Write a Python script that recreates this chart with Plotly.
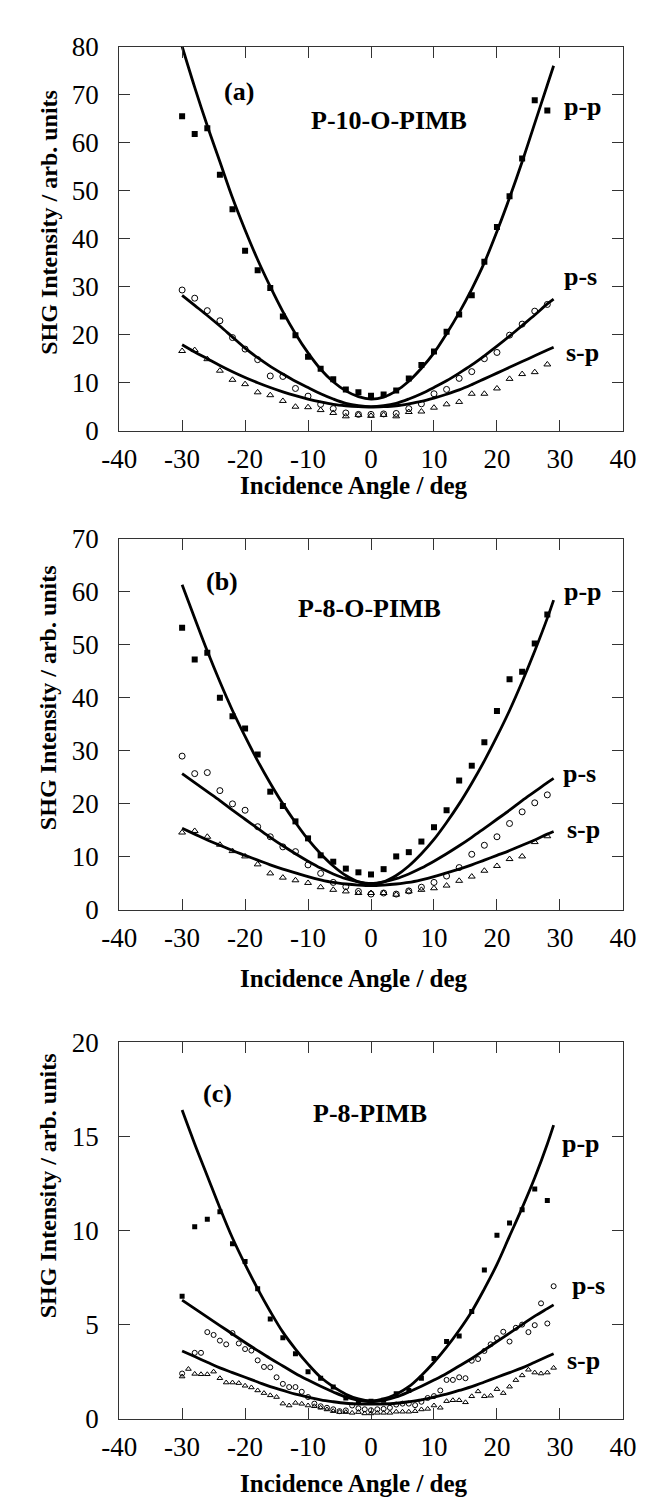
import plotly.graph_objects as go

W, H = 646, 1509
FONT = "Liberation Serif"

# ---------------- data ----------------
angle_even = [-30, -28, -26, -24, -22, -20, -18, -16, -14, -12, -10, -8, -6, -4, -2,
              0, 2, 4, 6, 8, 10, 12, 14, 16, 18, 20, 22, 24, 26, 28]
fit_angle = [-30, -28, -26, -24, -22, -20, -18, -16, -14, -12, -10, -8, -6, -4, -2,
             0, 2, 4, 6, 8, 10, 12, 14, 16, 18, 20, 22, 24, 26, 28, 29]

# (a) P-10-O-PIMB
a_pp = [65.5, 61.8, 63.0, 53.3, 46.1, 37.5, 33.4, 29.7, 23.8, 19.9, 15.4, 12.9, 10.7, 8.6, 8.0,
        7.3, 7.55, 8.4, 10.9, 13.7, 16.5, 20.6, 24.2, 28.2, 35.2, 42.4, 48.8, 56.7, 68.8, 66.7]
a_ps = [29.3, 27.6, 25.0, 22.9, 19.4, 17.0, 14.8, 11.4, 11.3, 8.8, 7.2, 5.5, 4.6, 3.7, 3.4,
        3.4, 3.5, 3.6, 4.6, 5.6, 7.7, 8.6, 10.9, 12.3, 15.0, 16.3, 19.9, 22.2, 24.9, 26.3]
a_sp = [16.6, 16.8, 14.9, 12.5, 10.6, 9.7, 8.0, 7.4, 6.2, 5.0, 4.9, 4.3, 3.7, 3.0, 3.3,
        3.1, 3.3, 3.0, 3.9, 4.0, 4.8, 5.5, 6.0, 7.7, 7.7, 8.8, 10.8, 11.8, 12.2, 13.8]
a_fit_pp = [80.0, 71.5, 63.5, 56.0, 48.5, 41.8, 35.6, 30.0, 24.8, 20.2, 16.2, 12.8, 10.2, 8.3, 7.1,
            6.6, 7.0, 8.3, 10.3, 13.0, 16.2, 20.2, 24.6, 29.5, 35.0, 41.5, 48.5, 56.0, 64.0, 72.0, 76.0]
a_fit_ps = [28.2, 26.1, 24.0, 21.8, 19.5, 17.2, 15.2, 13.4, 11.8, 10.3, 9.0, 7.7, 6.6, 5.7, 5.2,
            5.0, 5.2, 5.7, 6.6, 7.7, 9.0, 10.4, 12.0, 13.7, 15.6, 17.6, 19.7, 21.9, 24.1, 26.4, 27.4]
a_fit_sp = [17.9, 16.4, 15.0, 13.6, 12.3, 11.1, 10.0, 9.0, 8.1, 7.3, 6.6, 6.0, 5.5, 5.2, 5.0,
            4.9, 5.0, 5.2, 5.6, 6.1, 6.8, 7.6, 8.5, 9.6, 10.8, 12.0, 13.2, 14.4, 15.6, 16.8, 17.4]

# (b) P-8-O-PIMB
b_pp = [53.2, 47.2, 48.5, 40.0, 36.5, 34.2, 29.3, 22.3, 19.6, 16.7, 13.5, 10.3, 9.1, 7.8, 7.1,
        6.7, 7.7, 10.1, 10.9, 12.9, 15.6, 18.8, 24.4, 27.2, 31.6, 37.5, 43.5, 44.9, 50.2, 55.7]
b_ps = [29.0, 25.7, 25.9, 22.5, 20.0, 18.8, 15.7, 13.8, 11.9, 11.0, 8.5, 6.9, 5.2, 4.4, 3.5,
        3.0, 3.2, 3.0, 3.6, 4.3, 5.2, 6.4, 8.0, 10.5, 12.2, 13.8, 16.3, 18.5, 20.2, 21.7]
b_sp = [14.6, 14.9, 13.8, 12.3, 11.1, 10.1, 8.6, 6.9, 6.1, 5.6, 5.1, 4.3, 3.8, 3.5, 3.2,
        3.2, 3.2, 2.9, 3.5, 3.8, 4.1, 4.6, 5.5, 6.3, 7.4, 8.3, 9.6, 10.1, 12.8, 13.9]
b_fit_pp = [61.3, 55.0, 48.8, 43.0, 37.6, 32.7, 28.1, 23.9, 20.0, 16.5, 13.3, 10.6, 8.3, 6.5, 5.3,
            4.9, 5.3, 6.5, 8.3, 10.6, 13.3, 16.5, 20.0, 23.9, 28.1, 32.7, 37.6, 43.0, 48.8, 55.0, 58.4]
b_fit_ps = [25.7, 24.0, 22.3, 20.6, 18.8, 17.1, 15.4, 13.7, 12.1, 10.6, 9.2, 7.9, 6.8, 5.9, 5.3,
            5.0, 5.3, 5.9, 6.8, 7.9, 9.2, 10.6, 12.1, 13.7, 15.4, 17.1, 18.8, 20.6, 22.3, 24.0, 24.8]
b_fit_sp = [15.4, 14.3, 13.2, 12.2, 11.2, 10.3, 9.4, 8.5, 7.7, 7.0, 6.3, 5.7, 5.2, 4.9, 4.7,
            4.6, 4.7, 4.9, 5.2, 5.7, 6.3, 7.0, 7.7, 8.5, 9.4, 10.3, 11.2, 12.2, 13.2, 14.3, 14.8]

# (c) P-8-PIMB
c_pp = [6.5, 10.2, 10.6, 11.0, 9.3, 8.35, 6.9, 5.3, 4.3, 3.45, 2.5, 2.15, 1.68, 1.1, 0.87,
        0.93, 0.98, 1.33, 1.5, 2.15, 3.2, 4.1, 4.4, 5.7, 7.9, 9.75, 10.4, 11.1, 12.2, 11.6]
c_ps_angle = [-30, -28, -27, -26, -25, -24, -23, -22, -21, -20, -19, -18, -17, -16, -15,
              -14, -13, -12, -11, -10, -9, -8, -7, -6, -5, -4, -3, -2, -1, 0,
              1, 2, 3, 4, 5, 6, 7, 8, 9, 10, 11, 12, 13, 14, 15,
              16, 17, 18, 19, 20, 21, 22, 23, 24, 25, 26, 27, 28, 29]
c_ps = [2.4, 3.5, 3.5, 4.6, 4.45, 4.15, 3.95, 4.55, 4.0, 3.7, 3.62, 3.1, 2.75, 2.73, 2.2,
        1.85, 1.68, 1.68, 1.43, 1.15, 0.8, 0.66, 0.58, 0.5, 0.4, 0.44, 0.7, 0.55, 0.5, 0.45,
        0.5, 0.52, 0.58, 0.75, 0.8, 0.8, 0.72, 0.9, 1.1, 1.2, 1.5, 2.06, 2.06, 2.2, 2.15,
        3.08, 3.17, 3.6, 3.95, 4.28, 4.62, 4.1, 4.83, 5.0, 4.6, 4.97, 6.13, 5.06, 7.04]
c_sp_angle = [-30, -29, -28, -27, -26, -25, -24, -23, -22, -21, -20, -19, -18, -17, -16,
              -15, -14, -13, -12, -11, -10, -9, -8, -7, -6, -5, -4, -3, -2, -1,
              0, 1, 2, 3, 4, 5, 6, 7, 8, 9, 10, 11, 12, 13, 14,
              15, 16, 17, 18, 19, 20, 21, 22, 23, 24, 25, 26, 27, 28, 29]
c_sp = [2.24, 2.64, 2.38, 2.36, 2.36, 2.5, 2.15, 1.92, 1.92, 1.89, 1.75, 1.66, 1.5, 1.36, 1.24,
        1.15, 0.8, 0.7, 0.84, 0.79, 0.7, 0.66, 0.58, 0.49, 0.4, 0.35, 0.35, 0.31, 0.35, 0.28,
        0.28, 0.31, 0.31, 0.31, 0.37, 0.37, 0.37, 0.4, 0.49, 0.52, 0.7, 0.58, 0.93, 0.98, 0.98,
        0.87, 1.19, 1.45, 1.19, 1.22, 1.57, 1.36, 1.7, 2.05, 2.3, 2.6, 2.45, 2.4, 2.45, 2.7]
c_fit_pp = [16.4, 14.6, 12.9, 11.2, 9.6, 8.2, 6.9, 5.7, 4.6, 3.7, 2.9, 2.2, 1.7, 1.3, 1.05,
            0.95, 1.05, 1.3, 1.7, 2.3, 3.0, 3.8, 4.7, 5.7, 6.9, 8.2, 9.7, 11.2, 12.8, 14.6, 15.6]
c_fit_ps = [6.3, 5.85, 5.4, 4.95, 4.5, 4.05, 3.62, 3.2, 2.8, 2.4, 2.05, 1.72, 1.42, 1.15, 0.97,
            0.9, 0.97, 1.15, 1.42, 1.72, 2.05, 2.4, 2.8, 3.2, 3.65, 4.1, 4.55, 5.0, 5.45, 5.85, 6.05]
c_fit_sp = [3.6, 3.3, 3.0, 2.7, 2.45, 2.2, 1.95, 1.7, 1.5, 1.3, 1.15, 1.0, 0.9, 0.82, 0.78,
            0.77, 0.78, 0.82, 0.9, 1.0, 1.15, 1.3, 1.5, 1.7, 1.95, 2.2, 2.45, 2.7, 3.0, 3.3, 3.45]

panel_tags = ["(a)", "(b)", "(c)"]
sample_names = ["P-10-O-PIMB", "P-8-O-PIMB", "P-8-PIMB"]
curve_labels = ["p-p", "p-s", "s-p"]
y_ranges = [[0, 80], [0, 70], [0, 20]]
y_tickvals = [[0, 10, 20, 30, 40, 50, 60, 70, 80], [0, 10, 20, 30, 40, 50, 60, 70], [0, 5, 10, 15, 20]]
x_tickvals = [-40, -30, -20, -10, 0, 10, 20, 30, 40]
x_ticktext = ["-40", "-30", "-20", "-10", "0", "10", "20", "30", "40"]
x_title = "Incidence Angle / deg"
y_title = "SHG Intensity / arb. units"

# ---------------- layout geometry (pixels) ----------------
X_LEFT, X_RIGHT = 98, 628
PANELS_PX = [(24, 416), (526, 905), (1040, 1424)]   # (top, bottom)
XTITLE_X = 345
XTITLE_Y = [472, 975, 1490]
YTITLE_Y = [203, 688, 1186]
YTITLE_X = 24

# tag / name / curve-label positions in data coordinates
tag_pos = [(-21, 70.6), (-23.7, 61.9), (-24.4, 17.3)]
name_pos = [(2.9, 64.5), (-0.3, 56.9), (-0.2, 16.2)]
lab_pos = [
    [(33.6, 67.5), (33.3, 32.2), (33.6, 16.2)],
    [(33.7, 60.0), (33.1, 25.7), (33.7, 15.2)],
    [(33.4, 14.6), (34.5, 7.1), (33.7, 3.1)],
]


def px_x(p):
    return p / W


def px_y(p):
    return 1 - p / H


fig = go.Figure()

panels = [
    (angle_even, a_pp, angle_even, a_ps, angle_even, a_sp, a_fit_pp, a_fit_ps, a_fit_sp, 6),
    (angle_even, b_pp, angle_even, b_ps, angle_even, b_sp, b_fit_pp, b_fit_ps, b_fit_sp, 6),
    (angle_even, c_pp, c_ps_angle, c_ps, c_sp_angle, c_sp, c_fit_pp, c_fit_ps, c_fit_sp, 5),
]

annotations = []
for i, (xpp, ypp, xps, yps, xsp, ysp, fpp, fps, fsp, msz) in enumerate(panels):
    ax = "" if i == 0 else str(i + 1)
    xa, ya = "x" + ax, "y" + ax
    for fy in (fpp, fps, fsp):
        fig.add_trace(go.Scatter(x=fit_angle, y=fy, mode="lines",
                                 line=dict(color="black", width=2.8, shape="spline"),
                                 xaxis=xa, yaxis=ya, showlegend=False, hoverinfo="skip"))
    fig.add_trace(go.Scatter(x=xpp, y=ypp, mode="markers",
                             marker=dict(symbol="square", size=msz, color="black"),
                             xaxis=xa, yaxis=ya, showlegend=False))
    fig.add_trace(go.Scatter(x=xps, y=yps, mode="markers",
                             marker=dict(symbol="circle-open", size=msz, color="black", line=dict(width=1)),
                             xaxis=xa, yaxis=ya, showlegend=False))
    fig.add_trace(go.Scatter(x=xsp, y=ysp, mode="markers",
                             marker=dict(symbol="triangle-up-open", size=msz, color="black", line=dict(width=1)),
                             xaxis=xa, yaxis=ya, showlegend=False))

    top, bot = PANELS_PX[i]
    common = dict(showline=True, linecolor="#333", linewidth=1, mirror="ticks", ticks="inside",
                  ticklen=11, tickwidth=1, tickcolor="#333", showgrid=False, zeroline=False,
                  tickfont=dict(family=FONT, size=27, color="black"))
    fig.update_layout(**{
        "xaxis" + ax: dict(domain=[px_x(X_LEFT), px_x(X_RIGHT)], range=[-40, 40],
                           tickvals=x_tickvals, ticktext=x_ticktext, ticklabelstandoff=4,
                           anchor=ya, **common),
        "yaxis" + ax: dict(domain=[px_y(bot), px_y(top)], range=y_ranges[i],
                           tickvals=y_tickvals[i], ticktext=[str(v) for v in y_tickvals[i]],
                           ticklabelstandoff=14, anchor=xa, **common),
    })

    bold = dict(family=FONT, size=26, color="black")
    annotations.append(dict(x=tag_pos[i][0], y=tag_pos[i][1], xref=xa, yref=ya,
                            text="<b>%s</b>" % panel_tags[i], showarrow=False, font=bold))
    annotations.append(dict(x=name_pos[i][0], y=name_pos[i][1], xref=xa, yref=ya,
                            text="<b>%s</b>" % sample_names[i], showarrow=False, font=bold))
    for (lx, ly), lt in zip(lab_pos[i], curve_labels):
        annotations.append(dict(x=lx, y=ly, xref=xa, yref=ya, text="<b>%s</b>" % lt,
                                showarrow=False, font=bold))
    annotations.append(dict(x=px_x(XTITLE_X), y=px_y(XTITLE_Y[i]), xref="paper", yref="paper",
                            text="<b>%s</b>" % x_title, showarrow=False,
                            font=dict(family=FONT, size=25, color="black"),
                            xanchor="center", yanchor="middle"))
    annotations.append(dict(x=px_x(YTITLE_X), y=px_y(YTITLE_Y[i]), xref="paper", yref="paper",
                            text="<b>%s</b>" % y_title, showarrow=False, textangle=-90,
                            font=dict(family=FONT, size=24, color="black"),
                            xanchor="center", yanchor="middle"))

fig.update_layout(width=W, height=H, margin=dict(l=0, r=0, t=0, b=0),
                  font=dict(family=FONT, color="black"),
                  paper_bgcolor="white", plot_bgcolor="white", annotations=annotations)

fig.write_html("out.html")
